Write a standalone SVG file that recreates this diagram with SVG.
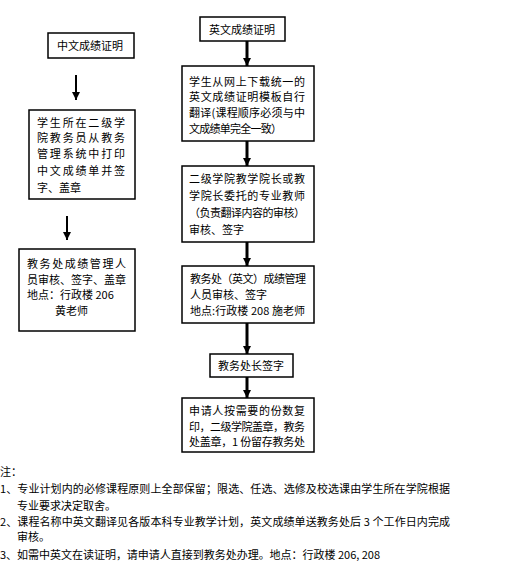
<svg xmlns="http://www.w3.org/2000/svg" width="513" height="563" viewBox="0 0 513 563">
<style>
.box{fill:#fff;stroke:#000;stroke-width:1.5}
.t{font-family:"Noto Sans CJK SC","Liberation Sans",sans-serif;font-size:11px;fill:#000}
.c{text-anchor:middle}
.a{stroke:#000;fill:none}
</style>
<defs>
<marker id="ah" markerUnits="userSpaceOnUse" markerWidth="10" markerHeight="9" refX="5" refY="8" orient="auto-start-reverse" viewBox="0 0 10 9">
<path d="M1,1 L9,1 L5,8 Z" fill="#000" transform="rotate(-90 5 4.5)"/>
</marker>
<marker id="hd" markerUnits="userSpaceOnUse" markerWidth="10" markerHeight="8" refX="8" refY="4" orient="auto" viewBox="0 0 10 8">
<path d="M0,0 L8,4 L0,8 Z" fill="#000"/>
</marker>
</defs>
<rect width="513" height="563" fill="#fff"/>
<g id="connectors">
<path class="a" stroke-width="3" d="M247,41 V66" marker-end="url(#hd)"/>
<path class="a" stroke-width="3" d="M247,141 V166" marker-end="url(#hd)"/>
<path class="a" stroke-width="3" d="M247,242 V266" marker-end="url(#hd)"/>
<path class="a" stroke-width="3" d="M247,323 V354" marker-end="url(#hd)"/>
<path class="a" stroke-width="3" d="M247,377 V398" marker-end="url(#hd)"/>
<path class="a" stroke-width="2" d="M76,75 V100" marker-end="url(#hd)"/>
<path class="a" stroke-width="2" d="M67,216 V240" marker-end="url(#hd)"/>
</g>
<g id="cn-title">
<rect class="box" x="48" y="33" width="86" height="25"/>
<text class="t c" x="90" y="50">中文成绩证明</text>
</g>
<g id="cn-step1">
<rect class="box" x="29" y="110" width="106" height="89"/>
<text class="t" x="37" y="127" textLength="88" lengthAdjust="spacing">学生所在二级学</text>
<text class="t" x="37" y="142" textLength="88" lengthAdjust="spacing">院教务员从教务</text>
<text class="t" x="37" y="158" textLength="88" lengthAdjust="spacing">管理系统中打印</text>
<text class="t" x="37" y="175" textLength="88" lengthAdjust="spacing">中文成绩单并签</text>
<text class="t" x="37" y="192">字、盖章</text>
</g>
<g id="cn-step2">
<rect class="box" x="19" y="249" width="116" height="82"/>
<text class="t" x="27" y="268" textLength="99" lengthAdjust="spacing">教务处成绩管理人</text>
<text class="t" x="27" y="284" textLength="99" lengthAdjust="spacing">员审核、签字、盖章</text>
<text class="t" x="27" y="299">地点：行政楼 206</text>
<text class="t" x="55" y="315">黄老师</text>
</g>
<g id="en-title">
<rect class="box" x="200" y="17" width="85" height="24"/>
<text class="t c" x="242" y="34">英文成绩证明</text>
</g>
<g id="en-step1">
<rect class="box" x="182" y="66" width="132" height="75"/>
<text class="t" x="189" y="86" textLength="116" lengthAdjust="spacing">学生从网上下载统一的</text>
<text class="t" x="189" y="101" textLength="116" lengthAdjust="spacing">英文成绩证明模板自行</text>
<text class="t" x="189" y="117" textLength="116" lengthAdjust="spacing">翻译(课程顺序必须与中</text>
<text class="t" x="189" y="133" textLength="93" lengthAdjust="spacing">文成绩单完全一致）</text>
</g>
<g id="en-step2">
<rect class="box" x="182" y="166" width="132" height="76"/>
<text class="t" x="189" y="183" textLength="116" lengthAdjust="spacing">二级学院教学院长或教</text>
<text class="t" x="189" y="200" textLength="116" lengthAdjust="spacing">学院长委托的专业教师</text>
<text class="t" x="189" y="217" textLength="116" lengthAdjust="spacing">（负责翻译内容的审核）</text>
<text class="t" x="189" y="234">审核、签字</text>
</g>
<g id="en-step3">
<rect class="box" x="182" y="266" width="132" height="57"/>
<text class="t" x="190" y="283" textLength="116" lengthAdjust="spacing">教务处（英文）成绩管理</text>
<text class="t" x="190" y="299">人员审核、签字</text>
<text class="t" x="190" y="315" textLength="115" lengthAdjust="spacing">地点:行政楼 208 施老师</text>
</g>
<g id="en-step4">
<rect class="box" x="210" y="354" width="83" height="23"/>
<text class="t c" x="251" y="370">教务处长签字</text>
</g>
<g id="en-step5">
<rect class="box" x="182" y="398" width="132" height="54"/>
<text class="t" x="189" y="415" textLength="116" lengthAdjust="spacing">申请人按需要的份数复</text>
<text class="t" x="189" y="431" textLength="116" lengthAdjust="spacing">印，二级学院盖章，教务</text>
<text class="t" x="189" y="446" textLength="116" lengthAdjust="spacing">处盖章，1 份留存教务处</text>
</g>
<g id="notes">
<text class="t" x="0" y="476">注：</text>
<text class="t" x="0" y="493" textLength="450" lengthAdjust="spacing">1、专业计划内的必修课程原则上全部保留；限选、任选、选修及校选课由学生所在学院根据</text>
<text class="t" x="17" y="510">专业要求决定取舍。</text>
<text class="t" x="0" y="526" textLength="450" lengthAdjust="spacing">2、课程名称中英文翻译见各版本科专业教学计划，英文成绩单送教务处后 3 个工作日内完成</text>
<text class="t" x="17" y="541">审核。</text>
<text class="t" x="0" y="559" textLength="380" lengthAdjust="spacing">3、如需中英文在读证明，请申请人直接到教务处办理。地点：行政楼 206, 208</text>
</g>
</svg>
